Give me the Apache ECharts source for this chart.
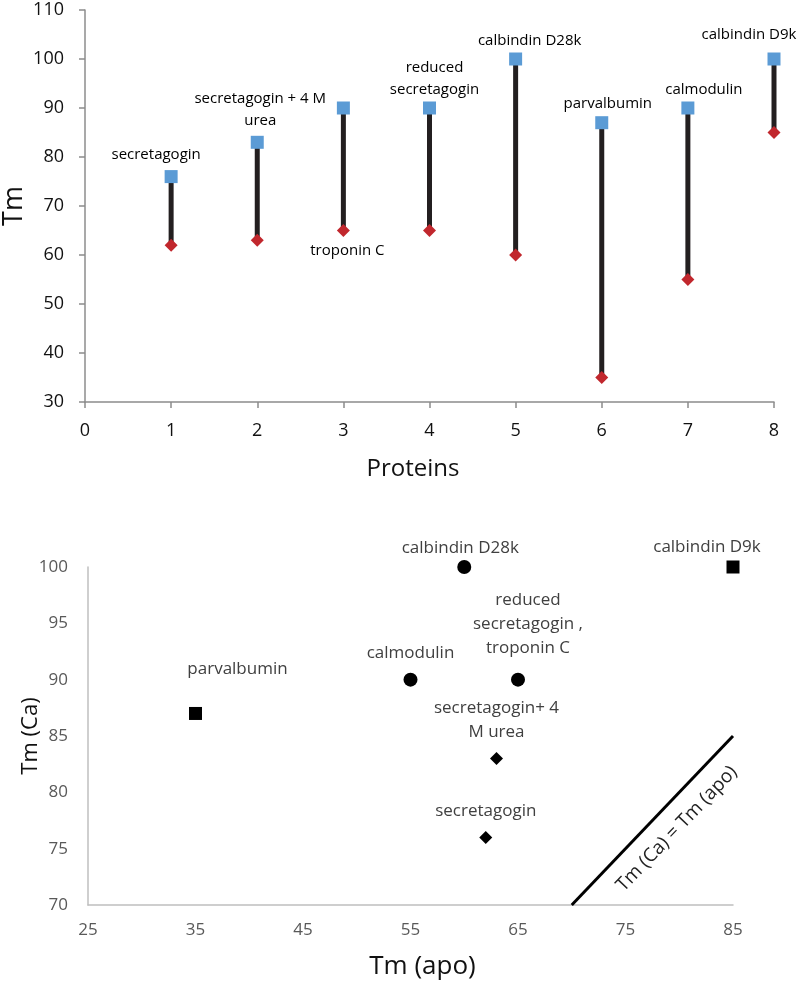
<!DOCTYPE html>
<html>
<head>
<meta charset="utf-8">
<script src="https://cdn.jsdelivr.net/npm/echarts@6/dist/echarts.min.js"></script>
<style>
  html, body { margin: 0; padding: 0; background: #fff; }
  #chart { width: 800px; height: 982px; }
</style>
</head>
<body>
<div id="chart"></div>
<script>
// top panel: Tm of each protein, Ca-bound vs apo
const proteins = [1, 2, 3, 4, 5, 6, 7, 8];
const tmCa = [76, 83, 90, 90, 100, 87, 90, 100];
const tmApo = [62, 63, 65, 65, 60, 35, 55, 85];
const caLabels = ["secretagogin", "secretagogin + 4 M\nurea", "", "reduced\nsecretagogin",
  "calbindin D28k", "parvalbumin", "calmodulin", "calbindin D9k"];
const apoLabels = ["", "", "troponin C", "", "", "", "", ""];

// bottom panel: Tm(Ca) against Tm(apo)
const circleNames = ["calbindin D28k", "calmodulin", "reduced\nsecretagogin ,\ntroponin C"];
const circleApo = [60, 55, 65];
const circleCa = [100, 90, 90];
const squareNames = ["parvalbumin", "calbindin D9k"];
const squareApo = [35, 85];
const squareCa = [87, 100];
const diamondNames = ["secretagogin+ 4\nM urea", "secretagogin"];
const diamondApo = [63, 62];
const diamondCa = [83, 76];
const identityLine = [[70, 70], [85, 85]];

// label offsets (px from marker centre), layout only
const caOffsets = [[-15, -22], [3, -33], [0, 0], [5, -29], [14, -18], [6, -19], [16, -18], [-25, -24]];
const apoOffsets = [[0, 0], [0, 0], [4, 20], [0, 0], [0, 0], [0, 0], [0, 0], [0, 0]];
const circleOffsets = [[-4, -19], [0, -27], [10, -56]];
const squareOffsets = [[42, -44], [-26, -20]];
const diamondOffsets = [[0, -38], [0, -26]];

const chart = echarts.init(document.getElementById("chart"));

function labelled(xs, ys, names, offsets, base) {
  return xs.map((x, i) => ({
    value: [x, ys[i]],
    label: names[i] ? Object.assign({ show: true, formatter: names[i], offset: offsets[i] }, base) : { show: false }
  }));
}

const topLabel = { position: "inside", align: "center", verticalAlign: "middle",
  color: "#000", fontSize: 15, lineHeight: 22, fontFamily: "Open Sans" };
const botLabel = { position: "inside", align: "center", verticalAlign: "middle",
  color: "#404040", fontSize: 17, lineHeight: 24, fontFamily: "Open Sans" };

const greyAxis = { lineStyle: { color: "#bfbfbf", width: 1.5 } };

chart.setOption({
  animation: false,
  grid: [
    { left: 85, top: 10, width: 689, height: 392, outerBoundsMode: "none" },
    { left: 88, top: 567, width: 645, height: 338, outerBoundsMode: "none" }
  ],
  xAxis: [
    {
      gridIndex: 0, type: "value", min: 0, max: 8, interval: 1,
      name: "Proteins", nameLocation: "middle", nameGap: 55, nameMoveOverlap: false,
      nameTextStyle: { fontSize: 24, color: "#111", fontFamily: "Open Sans", padding: [0, 33, 0, 0] },
      axisLine: { lineStyle: { color: "#8c8c8c", width: 1.5 } },
      axisTick: { show: true, length: 6, lineStyle: { color: "#8c8c8c", width: 1.5 } },
      axisLabel: { fontSize: 18, color: "#111", margin: 20, fontFamily: "Open Sans" },
      splitLine: { show: false }
    },
    {
      gridIndex: 1, type: "value", min: 25, max: 85, interval: 10,
      name: "Tm (apo)", nameLocation: "middle", nameGap: 49, nameMoveOverlap: false,
      nameTextStyle: { fontSize: 26, color: "#111", fontFamily: "Open Sans", padding: [0, 0, 0, 24] },
      axisLine: greyAxis, axisTick: { show: false },
      axisLabel: { fontSize: 17, color: "#595959", margin: 17, fontFamily: "Open Sans" },
      splitLine: { show: false }
    }
  ],
  yAxis: [
    {
      gridIndex: 0, type: "value", min: 30, max: 110, interval: 10,
      name: "Tm", nameLocation: "middle", nameGap: 57, nameMoveOverlap: false,
      nameTextStyle: { fontSize: 27, color: "#111", fontFamily: "Open Sans" },
      axisLine: { show: true, lineStyle: { color: "#8c8c8c", width: 1.5 } },
      axisTick: { show: true, length: 6, lineStyle: { color: "#8c8c8c", width: 1.5 } },
      axisLabel: { fontSize: 18, color: "#111", margin: 21, fontFamily: "Open Sans" },
      splitLine: { show: false }
    },
    {
      gridIndex: 1, type: "value", min: 70, max: 100, interval: 5,
      name: "Tm (Ca)", nameLocation: "middle", nameGap: 46, nameMoveOverlap: false,
      nameTextStyle: { fontSize: 22, color: "#111", fontFamily: "Open Sans" },
      axisLine: Object.assign({ show: true }, greyAxis), axisTick: { show: false },
      axisLabel: { fontSize: 17, color: "#595959", margin: 20, fontFamily: "Open Sans" },
      splitLine: { show: false }
    }
  ],
  series: [
    {
      // black bar from apo Tm up to Ca Tm
      type: "custom", xAxisIndex: 0, yAxisIndex: 0,
      data: proteins.map((p, i) => [p, tmApo[i], tmCa[i]]),
      renderItem: (params, api) => {
        const lo = api.coord([api.value(0), api.value(1)]);
        const hi = api.coord([api.value(0), api.value(2)]);
        return { type: "line", shape: { x1: lo[0], y1: lo[1], x2: hi[0], y2: hi[1] },
          style: { stroke: "#231f20", lineWidth: 5 } };
      },
      z: 1
    },
    {
      type: "scatter", xAxisIndex: 0, yAxisIndex: 0, symbol: "diamond", symbolSize: 13,
      itemStyle: { color: "#c1272d", opacity: 1 },
      data: labelled(proteins, tmApo, apoLabels, apoOffsets, topLabel), z: 3
    },
    {
      type: "scatter", xAxisIndex: 0, yAxisIndex: 0, symbol: "rect", symbolSize: 13,
      itemStyle: { color: "#5b9bd5", opacity: 1 },
      data: labelled(proteins, tmCa, caLabels, caOffsets, topLabel), z: 3
    },
    {
      type: "scatter", xAxisIndex: 1, yAxisIndex: 1, symbol: "circle", symbolSize: 14,
      itemStyle: { color: "#000", opacity: 1 },
      data: labelled(circleApo, circleCa, circleNames, circleOffsets, botLabel)
    },
    {
      type: "scatter", xAxisIndex: 1, yAxisIndex: 1, symbol: "rect", symbolSize: 13,
      itemStyle: { color: "#000", opacity: 1 },
      data: labelled(squareApo, squareCa, squareNames, squareOffsets, botLabel)
    },
    {
      type: "scatter", xAxisIndex: 1, yAxisIndex: 1, symbol: "diamond", symbolSize: 13,
      itemStyle: { color: "#000", opacity: 1 },
      data: labelled(diamondApo, diamondCa, diamondNames, diamondOffsets, botLabel)
    },
    {
      type: "line", xAxisIndex: 1, yAxisIndex: 1, data: identityLine,
      symbol: "none", lineStyle: { color: "#000", width: 3 },
      markLine: {
        symbol: "none", silent: true,
        lineStyle: { color: "#000", width: 0 },
        label: { show: true, formatter: "Tm (Ca) = Tm (apo)", position: "insideMiddleBottom",
          distance: 14, padding: [0, 0, 0, 22], color: "#222", fontSize: 19, fontFamily: "Open Sans" },
        data: [[{ coord: identityLine[0] }, { coord: identityLine[1] }]]
      }
    }
  ]
});
</script>
</body>
</html>
